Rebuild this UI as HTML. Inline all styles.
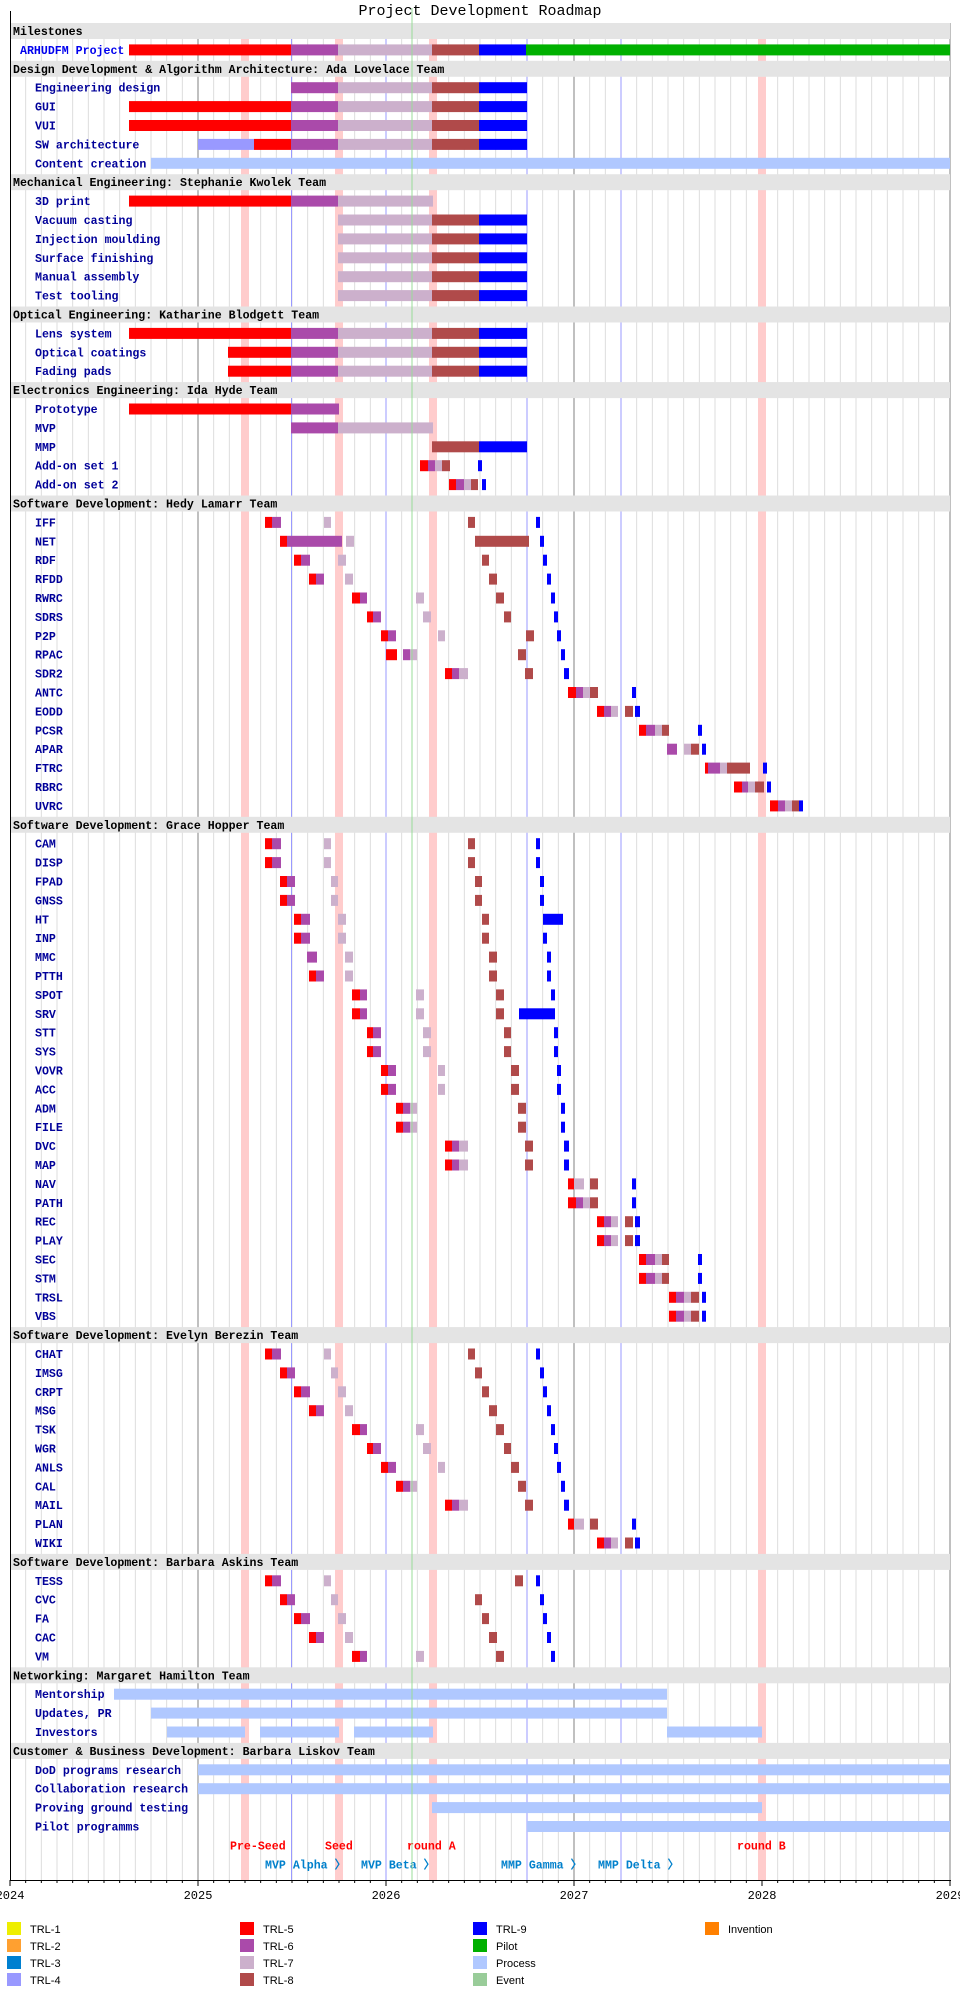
<!DOCTYPE html>
<html><head><meta charset="utf-8"><style>
html,body{margin:0;padding:0;background:#fff;width:960px;height:2000px;overflow:hidden}
svg{display:block}
.h{font:bold 11.6px "Liberation Mono",monospace;fill:#000}
.l{font:bold 11.6px "Liberation Mono",monospace;fill:#000099}
.f{font:bold 11.6px "Liberation Mono",monospace;fill:#ff0000}
.m{font:bold 11.6px "Liberation Mono",monospace;fill:#0080cc}
.lg{font:11px "Liberation Sans",sans-serif;fill:#000}
.yr{font:12px "Liberation Mono",monospace;fill:#000}
</style></head><body>
<svg id="s" width="960" height="2000" xmlns="http://www.w3.org/2000/svg">
<g id="grid"></g>
<g id="bands"></g>
<g id="bars"></g>
<g id="txt">
<text x="480" y="15" text-anchor="middle" style="font:15px 'Liberation Mono',monospace;fill:#000">Project Development Roadmap</text>
</g>
<g id="top"></g>
</svg>
<script>
var S=document.getElementById('s'),NS='http://www.w3.org/2000/svg';
function el(g,t,a,txt){var e=document.createElementNS(NS,t);for(var k in a)e.setAttribute(k,a[k]);if(txt!==undefined)e.textContent=txt;document.getElementById(g).appendChild(e);return e;}
function R(g,x0,x1,y,h,c){el(g,'rect',{x:x0,y:y,width:x1-x0,height:h,fill:c});}
var P=18.9,T=20,AX=1880;
// grid
for(var k=1;k<60;k++){var x=10+k*188/12;if(k%12)el('grid','line',{x1:x,x2:x,y1:23,y2:AX,stroke:'#dddddd','stroke-width':1});}
[198,386,574,762,950].forEach(function(x){el('grid','line',{x1:x,x2:x,y1:23,y2:AX,stroke:'#808080','stroke-width':1});});
[291.5,386,527,621].forEach(function(x){el('grid','line',{x1:x,x2:x,y1:23,y2:AX,stroke:'#9999ff','stroke-width':1});});
[245,339,433,762].forEach(function(x){R('grid',x-4,x+4,39,AX-39,'#ffcccc');});
var C={R:'#ff0000',P:'#aa4aaa',L:'#ccb0cc',E:'#b04a4a',B:'#0000ff',G:'#00b000',Q:'#b0c8ff',F:'#9999ff'};
var rows=[
['h','Milestones'],
['a','ARHUDFM Project',[[129,291,'R'],[291,338,'P'],[338,432,'L'],[432,479,'E'],[479,526,'B'],[526,950,'G']]],
['h','Design Development & Algorithm Architecture: Ada Lovelace Team'],
['l','Engineering design','S'],
['l','GUI','RS'],
['l','VUI','RS'],
['l','SW architecture',[[198,254,'F'],[254,291,'R']].concat('S')],
['l','Content creation',[[151,950,'Q']]],
['h','Mechanical Engineering: Stephanie Kwolek Team'],
['l','3D print',[[129,291,'R'],[291,338,'P'],[338,433,'L']]],
['l','Vacuum casting','V'],['l','Injection moulding','V'],['l','Surface finishing','V'],['l','Manual assembly','V'],['l','Test tooling','V'],
['h','Optical Engineering: Katharine Blodgett Team'],
['l','Lens system','RS'],
['l','Optical coatings',[[228,291,'R']].concat('S')],
['l','Fading pads',[[228,291,'R']].concat('S')],
['h','Electronics Engineering: Ida Hyde Team'],
['l','Prototype',[[129,291,'R'],[291,339,'P']]],
['l','MVP',[[291,338,'P'],[338,433,'L']]],
['l','MMP',[[432,479,'E'],[479,527,'B']]],
['l','Add-on set 1',[[420,428,'R'],[428,435,'P'],[435,442,'L'],[442,450,'E'],[478,482,'B']]],
['l','Add-on set 2',[[449,456,'R'],[456,464,'P'],[464,471,'L'],[471,478,'E'],[482,486,'B']]],
['h','Software Development: Hedy Lamarr Team'],
['l','IFF','A'],
['l','NET',[[280,287,'R'],[287,342,'P'],[346,354,'L'],[475,529,'E'],[540,544,'B']]],
['l','RDF','C'],['l','RFDD','D'],['l','RWRC','Ep'],['l','SDRS','Fp'],
['l','P2P',[[381,388,'R'],[388,396,'P'],[438,445,'L'],[526,534,'E'],[557,561,'B']]],
['l','RPAC',[[386,397,'R'],[403,410,'P'],[410,417,'L'],[518,526,'E'],[561,565,'B']]],
['l','SDR2','I'],['l','ANTC','J'],['l','EODD','K'],['l','PCSR','Lp'],
['l','APAR',[[667,677,'P'],[684,691,'L'],[691,699,'E'],[702,706,'B']]],
['l','FTRC',[[705,708,'R'],[708,720,'P'],[720,727,'L'],[727,750,'E'],[763,767,'B']]],
['l','RBRC',[[734,742,'R'],[742,748,'P'],[748,755,'L'],[755,764,'E'],[767,771,'B']]],
['l','UVRC',[[770,778,'R'],[778,785,'P'],[785,792,'L'],[792,799,'E'],[799,803,'B']]],
['h','Software Development: Grace Hopper Team'],
['l','CAM','A'],['l','DISP','A'],['l','FPAD','Bp'],['l','GNSS','Bp'],
['l','HT',[[294,301,'R'],[301,310,'P'],[338,346,'L'],[482,489,'E'],[543,563,'B']]],
['l','INP','C'],
['l','MMC',[[307,317,'P'],[345,353,'L'],[489,497,'E'],[547,551,'B']]],
['l','PTTH','D'],['l','SPOT','Ep'],
['l','SRV',[[352,360,'R'],[360,367,'P'],[416,424,'L'],[496,504,'E'],[519,555,'B']]],
['l','STT','Fp'],['l','SYS','Fp'],['l','VOVR','Gp'],['l','ACC','Gp'],['l','ADM','H'],['l','FILE','H'],
['l','DVC','I'],['l','MAP','I'],['l','NAV','Jn'],['l','PATH','J'],['l','REC','K'],['l','PLAY','K'],
['l','SEC','Lp'],['l','STM','Lp'],['l','TRSL','M'],['l','VBS','M'],
['h','Software Development: Evelyn Berezin Team'],
['l','CHAT','A'],['l','IMSG','Bp'],['l','CRPT','C'],['l','MSG','D'],['l','TSK','Ep'],['l','WGR','Fp'],
['l','ANLS','Gp'],['l','CAL','H'],['l','MAIL','I'],['l','PLAN','Jn'],['l','WIKI','K'],
['h','Software Development: Barbara Askins Team'],
['l','TESS',[[265,272,'R'],[272,281,'P'],[324,331,'L'],[515,523,'E'],[536,540,'B']]],
['l','CVC','Bp'],['l','FA','C'],['l','CAC','D'],['l','VM','Ep'],
['h','Networking: Margaret Hamilton Team'],
['l','Mentorship',[[114,667,'Q']]],
['l','Updates, PR',[[151,667,'Q']]],
['l','Investors',[[167,245,'Q'],[260,339,'Q'],[354,433,'Q'],[667,762,'Q']]],
['h','Customer & Business Development: Barbara Liskov Team'],
['l','DoD programs research',[[198,950,'Q']]],
['l','Collaboration research',[[198,950,'Q']]],
['l','Proving ground testing',[[432,762,'Q']]],
['l','Pilot programms',[[527,950,'Q']]]
];
var TP={
S:[[291,338,'P'],[338,432,'L'],[432,479,'E'],[479,527,'B']],
V:[[338,432,'L'],[432,479,'E'],[479,527,'B']],
A:[[265,272,'R'],[272,281,'P'],[324,331,'L'],[468,475,'E'],[536,540,'B']],
Bp:[[280,287,'R'],[287,295,'P'],[331,338,'L'],[475,482,'E'],[540,544,'B']],
C:[[294,301,'R'],[301,310,'P'],[338,346,'L'],[482,489,'E'],[543,547,'B']],
D:[[309,316,'R'],[316,324,'P'],[345,353,'L'],[489,497,'E'],[547,551,'B']],
Ep:[[352,360,'R'],[360,367,'P'],[416,424,'L'],[496,504,'E'],[551,555,'B']],
Fp:[[367,373,'R'],[373,381,'P'],[423,431,'L'],[504,511,'E'],[554,558,'B']],
Gp:[[381,388,'R'],[388,396,'P'],[438,445,'L'],[511,519,'E'],[557,561,'B']],
H:[[396,403,'R'],[403,410,'P'],[410,417,'L'],[518,526,'E'],[561,565,'B']],
I:[[445,452,'R'],[452,459,'P'],[459,468,'L'],[525,533,'E'],[564,569,'B']],
J:[[568,576,'R'],[576,583,'P'],[583,590,'L'],[590,598,'E'],[632,636,'B']],
Jn:[[568,574,'R'],[574,584,'L'],[590,598,'E'],[632,636,'B']],
K:[[597,604,'R'],[604,611,'P'],[611,618,'L'],[625,633,'E'],[635,640,'B']],
Lp:[[639,646,'R'],[646,655,'P'],[655,662,'L'],[662,669,'E'],[698,702,'B']],
M:[[669,676,'R'],[676,684,'P'],[684,691,'L'],[691,699,'E'],[702,706,'B']]
};
function expand(s){
 if(typeof s==='string'){if(s==='RS')return [[129,291,'R']].concat(TP.S);return TP[s];}
 var o=[];s.forEach(function(q){if(typeof q==='string')o=o.concat(TP[q]);else o.push(q);});return o;
}
rows.forEach(function(r,i){
 var y=T+i*P;
 if(r[0]==='h'){R('bands',11,950,y+3,16,'#e4e4e4');el('txt','text',{x:13,y:y+15,'class':'h'},r[1]);}
 else{
  if(r[0]==='a')el('txt','text',{x:20,y:y+15,'class':'l',style:'fill:#0000ee'},r[1]);
  else el('txt','text',{x:35,y:y+15,'class':'l'},r[1]);
  expand(r[2]).forEach(function(b){R('bars',b[0],b[1],y+5.5,11,C[b[2]]);});
 }
});
// funding / milestone labels
var fy=T+96*P+15, my=T+97*P+15;
[['Pre-Seed',230],['Seed',325],['round A',407],['round B',737]].forEach(function(a){el('txt','text',{x:a[1],y:fy,'class':'f'},a[0]);});
[['MVP Alpha 〉',265],['MVP Beta 〉',361],['MMP Gamma 〉',501],['MMP Delta 〉',598]].forEach(function(a){el('txt','text',{x:a[1],y:my,'class':'m'},a[0]);});
// today line
el('top','line',{x1:412,x2:412,y1:8,y2:AX,stroke:'#99dd99','stroke-width':1});
// axes
el('top','line',{x1:10.5,x2:10.5,y1:11,y2:AX,stroke:'#000','stroke-width':1});
el('top','line',{x1:10,x2:951,y1:AX+0.5,y2:AX+0.5,stroke:'#000','stroke-width':1});
for(var k=0;k<=60;k++){var x=10+k*188/12;el('top','line',{x1:x,x2:x,y1:AX,y2:AX+(k%12?3:6),stroke:'#000','stroke-width':1});}
['2024','2025','2026','2027','2028','2029'].forEach(function(t,j){el('txt','text',{x:10+j*188,y:1899,'text-anchor':'middle','class':'yr'},t);});
// legend
var lg=[[7,['TRL-1','#eeee00'],['TRL-2','#ffa030'],['TRL-3','#0080d0'],['TRL-4','#9999ff']],
[240,['TRL-5','#ff0000'],['TRL-6','#aa4aaa'],['TRL-7','#ccb0cc'],['TRL-8','#b04a4a']],
[473,['TRL-9','#0000ff'],['Pilot','#00b000'],['Process','#b0c8ff'],['Event','#99cc99']],
[705,['Invention','#ff8000']]];
lg.forEach(function(c){for(var j=1;j<c.length;j++){var y=1922+(j-1)*17;R('bars',c[0],c[0]+14,y,13,c[j][1]);el('txt','text',{x:c[0]+23,y:y+11,'class':'lg'},c[j][0]);}});
</script>
</body></html>
